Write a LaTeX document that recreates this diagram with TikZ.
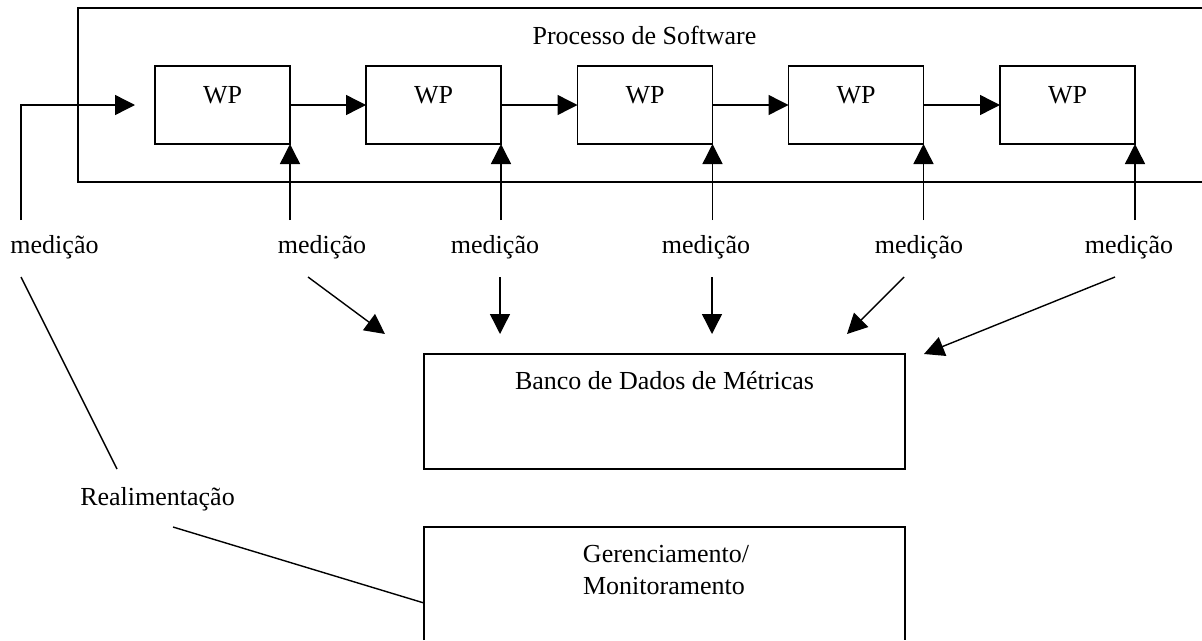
\documentclass[tikz,border=0pt]{standalone}
\usepackage{fontspec}
\setmainfont{Liberation Serif}
\usetikzlibrary{arrows.meta}
\begin{document}
\begin{tikzpicture}[x=1pt,y=-1pt,
  every node/.style={font=\fontsize{26}{32}\selectfont},
  line/.style={line width=1.4pt},
  arr/.style={line width=1.4pt,-{Triangle[length=20pt,width=20pt]}},
  wpbox/.style={draw,line width=1.4pt,minimum width=135pt,minimum height=78pt,
    inner sep=0pt,outer sep=0pt,text height=18pt,text depth=22pt},
  lbl/.style={anchor=base,inner sep=0pt}]
\useasboundingbox (0,0) rectangle (1202,640);
% process frame (open on the right)
\draw[line] (1202,8) -- (78,8) -- (78,182) -- (1202,182);
\node[lbl] (proc) at (644.5,44) {Processo de Software};
% work products
\node[wpbox] (wp1) at (222.5,105) {WP};
\node[wpbox] (wp2) at (433.5,105) {WP};
\node[wpbox] (wp3) at (645,105) {WP};
\node[wpbox] (wp4) at (856,105) {WP};
\node[wpbox] (wp5) at (1067.5,105) {WP};
\draw[arr] (wp1.east) -- (wp2.west);
\draw[arr] (wp2.east) -- (wp3.west);
\draw[arr] (wp3.east) -- (wp4.west);
\draw[arr] (wp4.east) -- (wp5.west);
% measurement labels
\node[lbl] (m0) at (54.5,253) {medição};
\node[lbl] (m1) at (322,253) {medição};
\node[lbl] (m2) at (495,253) {medição};
\node[lbl] (m3) at (706,253) {medição};
\node[lbl] (m4) at (919,253) {medição};
\node[lbl] (m5) at (1129,253) {medição};
% input arrow
\coordinate (in0) at (21,220);
\coordinate (in1) at (135,105);
\draw[arr] (in0) |- (in1);
% measurement arrows up
\coordinate (u1) at (wp1.south east |- 0,220);
\coordinate (u2) at (wp2.south east |- 0,220);
\coordinate (u3) at (wp3.south east |- 0,220);
\coordinate (u4) at (wp4.south east |- 0,220);
\coordinate (u5) at (wp5.south east |- 0,220);
\draw[arr] (u1) -- (wp1.south east);
\draw[arr] (u2) -- (wp2.south east);
\draw[arr] (u3) -- (wp3.south east);
\draw[arr] (u4) -- (wp4.south east);
\draw[arr] (u5) -- (wp5.south east);
% metrics database
\node[draw,line width=1.4pt,minimum width=481pt,minimum height=115pt,inner sep=0pt,outer sep=0pt,
  text height=18pt,text depth=63pt] (db) at (664.5,411.5) {Banco de Dados de Métricas};
% arrows into database
\coordinate (s1) at (308,277); \coordinate (t1) at (385,334);
\coordinate (s2) at (500,277); \coordinate (t2) at (500,334);
\coordinate (s3) at (712,277); \coordinate (t3) at (712,334);
\coordinate (s4) at (904,277); \coordinate (t4) at (847,334);
\coordinate (s5) at (1115,277); \coordinate (t5) at (924,354);
\draw[arr] (s1) -- (t1);
\draw[arr] (s2) -- (t2);
\draw[arr] (s3) -- (t3);
\draw[arr] (s4) -- (t4);
\draw[arr] (s5) -- (t5);
% management box (open at the bottom)
\node[draw=none,minimum width=481pt,minimum height=113pt,inner sep=0pt,outer sep=0pt,anchor=north west] (ger) at (424,527) {};
\draw[line] (ger.south west) -- (ger.north west) -- (ger.north east) -- (ger.south east);
\node[lbl] (ger1) at (666,562) {Gerenciamento/};
\node[lbl] (ger2) at (664,594) {Monitoramento};
% feedback
\node[lbl] (realim) at (157.5,505) {Realimentação};
\coordinate (f0) at (21,277);
\coordinate (f1) at (117,469);
\coordinate (f2) at (173,527);
\coordinate (f3) at (424,603);
\draw[line] (f0) -- (f1);
\draw[line] (f2) -- (f3);
\end{tikzpicture}
\end{document}
